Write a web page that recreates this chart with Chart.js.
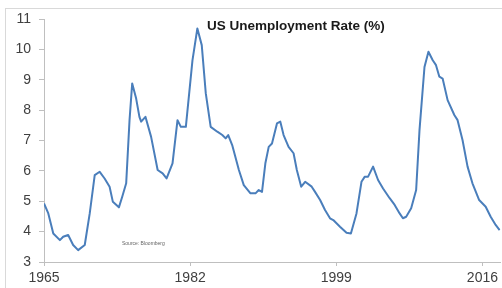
<!DOCTYPE html>
<html>
<head>
<meta charset="utf-8">
<script src="https://cdn.jsdelivr.net/npm/chart.js@4.4.1/dist/chart.umd.min.js"></script>
<style>
  html, body { margin: 0; padding: 0; background: #fff; }
  #wrap { width: 502px; height: 288px; position: relative; }
</style>
</head>
<body>
<div id="wrap"><canvas id="grafico"></canvas></div>
<script>
// valores (ano decimal, taxa %)
const anos = [
  1965.0, 1965.5, 1966.08, 1966.85, 1967.23, 1967.81, 1968.39, 1968.97, 1969.74, 1970.32,
  1970.9, 1971.48, 1972.05, 1972.63, 1973.01, 1973.71, 1974.1, 1974.56, 1974.95, 1975.26,
  1975.72, 1976.1, 1976.3, 1976.8, 1977.46, 1978.22, 1978.8, 1979.26, 1979.95, 1980.53,
  1980.92, 1981.5, 1982.27, 1982.84, 1983.35, 1983.82, 1984.39, 1985.16, 1985.74, 1986.13,
  1986.43, 1986.89, 1987.67, 1988.24, 1989.02, 1989.6, 1989.98, 1990.36, 1990.75, 1991.14,
  1991.52, 1992.1, 1992.49, 1992.87, 1993.45, 1994.03, 1994.41, 1994.92, 1995.38, 1996.14,
  1996.53, 1997.12, 1997.69, 1998.27, 1998.65, 1999.43, 2000.19, 2000.7, 2001.35, 2001.93,
  2002.32, 2002.7, 2003.28, 2003.86, 2004.44, 2005.21, 2005.79, 2006.37, 2006.75, 2007.13,
  2007.71, 2008.29, 2008.68, 2009.26, 2009.72, 2010.22, 2010.6, 2010.99, 2011.37, 2011.95,
  2012.73, 2013.11, 2013.69, 2014.27, 2014.84, 2015.62, 2016.38, 2016.96, 2017.54, 2018.0
];
const taxaDesemprego = [
  4.93, 4.6, 3.94, 3.72, 3.83, 3.89, 3.56, 3.39, 3.56, 4.6,
  5.86, 5.97, 5.75, 5.48, 4.98, 4.8, 5.15, 5.59, 7.67, 8.88,
  8.38, 7.78, 7.62, 7.78, 7.12, 6.03, 5.92, 5.75, 6.25, 7.67,
  7.45, 7.45, 9.64, 10.69, 10.14, 8.55, 7.45, 7.29, 7.18, 7.07,
  7.18, 6.85, 6.03, 5.53, 5.26, 5.26, 5.37, 5.31, 6.25, 6.79,
  6.9, 7.56, 7.62, 7.18, 6.79, 6.58, 6.03, 5.48, 5.64, 5.48,
  5.31, 5.04, 4.71, 4.44, 4.38, 4.16, 3.96, 3.94, 4.6, 5.64,
  5.81, 5.81, 6.14, 5.70, 5.42, 5.1, 4.88, 4.6, 4.44, 4.49,
  4.77, 5.37, 7.34, 9.42, 9.92, 9.64, 9.48, 9.1, 9.04, 8.33,
  7.84, 7.67, 7.01, 6.14, 5.59, 5.04, 4.82, 4.49, 4.22, 4.05
];
const ticksX = [1965, 1982, 1999, 2016];
const titulo = 'US Unemployment Rate (%)';
const fonte = 'Source: Bloomberg';

const pontos = anos.map((a, i) => ({ x: a, y: taxaDesemprego[i] }));

// moldura, titulo e fonte desenhados no canvas
const extras = {
  id: 'extras',
  beforeDraw(chart) {
    const ctx = chart.ctx;
    ctx.save();
    ctx.fillStyle = '#fff';
    ctx.fillRect(0, 0, chart.width, chart.height);
    ctx.strokeStyle = '#d9d9d9';
    ctx.lineWidth = 1;
    ctx.strokeRect(5.5, 8.5, 700, 400);
    ctx.restore();
  },
  afterDraw(chart) {
    const ctx = chart.ctx;
    ctx.save();
    ctx.fillStyle = '#1a1a1a';
    ctx.font = 'bold 13.5px "Liberation Sans", Arial, sans-serif';
    ctx.textBaseline = 'middle';
    ctx.textAlign = 'left';
    ctx.fillText(titulo, 207, 26);
    ctx.fillStyle = '#666';
    ctx.font = '5px "Liberation Sans", Arial, sans-serif';
    ctx.fillText(fonte, 122, 244);
    ctx.restore();
  }
};

new Chart(document.getElementById('grafico'), {
  type: 'line',
  data: {
    datasets: [{
      label: 'US Unemployment Rate',
      data: pontos,
      borderColor: '#4a7ebb',
      borderWidth: 2,
      pointRadius: 0,
      tension: 0,
      borderJoinStyle: 'round',
      fill: false
    }]
  },
  options: {
    responsive: true,
    maintainAspectRatio: false,
    animation: false,
    layout: { padding: { top: 19, left: 0, right: 0, bottom: 0 } },
    plugins: {
      legend: { display: false },
      tooltip: { enabled: false }
    },
    scales: {
      x: {
        type: 'linear',
        min: 1965,
        max: 2018.1,
        afterBuildTicks: (s) => { s.ticks = ticksX.map(v => ({ value: v })); },
        afterFit: (s) => { s.height = 26; },
        grid: { drawOnChartArea: false, tickLength: 4, color: '#bfbfbf' },
        border: { color: '#bfbfbf' },
        ticks: {
          color: '#404040',
          font: { family: '"Liberation Sans", Arial, sans-serif', size: 14 },
          padding: 4,
          maxRotation: 0,
          autoSkip: false,
          callback: (v) => String(v)
        }
      },
      y: {
        min: 3,
        max: 11,
        afterFit: (s) => { s.width = 44; },
        grid: { drawOnChartArea: false, tickLength: 5, color: '#bfbfbf' },
        border: { color: '#bfbfbf' },
        ticks: {
          stepSize: 1,
          color: '#404040',
          font: { family: '"Liberation Sans", Arial, sans-serif', size: 14 },
          padding: 8
        }
      }
    }
  },
  plugins: [extras]
});
</script>
</body>
</html>
